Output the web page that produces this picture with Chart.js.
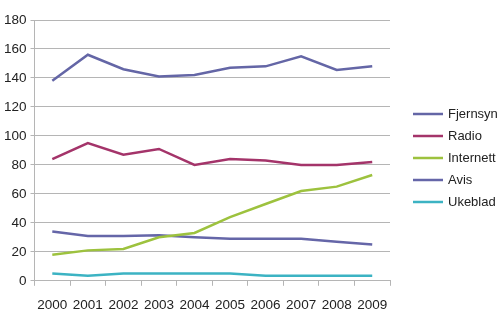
<!DOCTYPE html>
<html>
<head>
<meta charset="utf-8">
<script src="https://cdn.jsdelivr.net/npm/chart.js@4.4.0/dist/chart.umd.min.js"></script>
<style>
  html, body { margin: 0; padding: 0; background: #fff; }
  #wrap { width: 500px; height: 326px; }
</style>
</head>
<body>
<div id="wrap"><canvas id="chart"></canvas></div>
<script>
// data
const years = ['2000', '2001', '2002', '2003', '2004', '2005', '2006', '2007', '2008', '2009'];
const fjernsyn = [138, 156, 146, 141, 142, 147, 148, 155, 145.5, 148];
const radio = [84, 95, 87, 91, 80, 84, 83, 80, 80, 82];
const internett = [18, 21, 22, 30, 33, 44, 53, 62, 65, 73];
const avis = [34, 31, 31, 31.5, 30, 29, 29, 29, 27, 25];
const ukeblad = [5, 3.5, 5, 5, 5, 5, 3.5, 3.5, 3.5, 3.5];

const FONT = 'Liberation Sans, Arial, sans-serif';

function serie(label, data, color) {
    return {
        label: label,
        data: data,
        borderColor: color,
        backgroundColor: color,
        borderWidth: 2.5,
        pointRadius: 0,
        tension: 0,
        fill: false
    };
}

// legend on the right, drawn by hand so it sits where the original has it
const sideLegend = {
    id: 'sideLegend',
    afterDraw(chart) {
        const c = chart.ctx;
        c.save();
        c.font = '13px ' + FONT;
        c.textBaseline = 'middle';
        c.fillStyle = '#222';
        chart.data.datasets.forEach((ds, i) => {
            const y = 114 + i * 22;
            c.strokeStyle = ds.borderColor;
            c.lineWidth = 2.5;
            c.beginPath();
            c.moveTo(413, y);
            c.lineTo(443, y);
            c.stroke();
            c.fillText(ds.label, 448, y);
        });
        c.restore();
    }
};

const ctx = document.getElementById('chart').getContext('2d');
new Chart(ctx, {
    type: 'line',
    data: {
        labels: years,
        datasets: [
            serie('Fjernsyn', fjernsyn, '#6466a6'),
            serie('Radio', radio, '#a4346a'),
            serie('Internett', internett, '#9dc23e'),
            serie('Avis', avis, '#6566a8'),
            serie('Ukeblad', ukeblad, '#3cb3c3')
        ]
    },
    plugins: [sideLegend],
    options: {
        responsive: true,
        maintainAspectRatio: false,
        animation: false,
        layout: { padding: { top: 20, left: 0, right: 110, bottom: 2 } },
        plugins: {
            tooltip: { enabled: false },
            legend: { display: false }
        },
        scales: {
            x: {
                offset: true,
                grid: { offset: true, drawOnChartArea: false, drawTicks: true, tickLength: 5, color: '#b5b5b5' },
                border: { color: '#b5b5b5' },
                ticks: { color: '#222', padding: 11, maxRotation: 0, minRotation: 0, autoSkip: false, font: { family: FONT, size: 13.5 } }
            },
            y: {
                min: 0,
                max: 180,
                ticks: { stepSize: 20, color: '#222', padding: 4, font: { family: FONT, size: 13.5 } },
                grid: { color: '#b5b5b5', tickLength: 4 },
                border: { color: '#b5b5b5' }
            }
        }
    }
});
</script>
</body>
</html>
